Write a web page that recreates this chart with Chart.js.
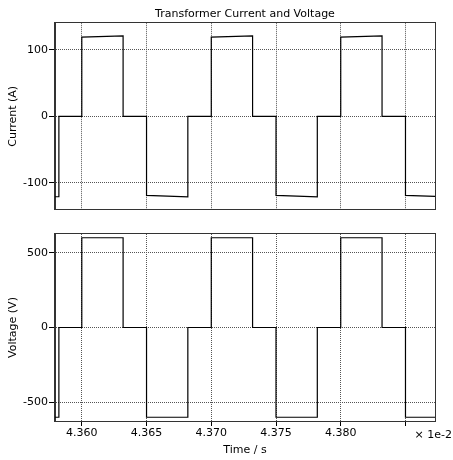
<!DOCTYPE html>
<html>
<head>
<meta charset="utf-8">
<script src="https://cdn.jsdelivr.net/npm/chart.js@4"></script>
<style>
  html, body { margin: 0; padding: 0; background: #fff; }
  #wrap { position: relative; width: 453px; height: 460px; }
  #top { position: absolute; left: 0; top: 0; }
  #bottom { position: absolute; left: 0; top: 222px; }
</style>
</head>
<body>
<div id="wrap">
  <div id="top" style="width:453px;height:217px"><canvas id="currentChart"></canvas></div>
  <div id="bottom" style="width:453px;height:238px"><canvas id="voltageChart"></canvas></div>
</div>
<script>
// time in units of 1e-2 s
const timeMin = 4.35793;
const timeMax = 4.38728;
const timeTicks = [4.360, 4.365, 4.370, 4.375, 4.380, 4.385];
const timeLabels = ["4.360", "4.365", "4.370", "4.375", "4.380", ""];
const currentTicks = [-100, 0, 100];
const voltageTicks = [-500, 0, 500];

const times = [
  4.35793, 4.35823, 4.35823, 4.3600, 4.3600, 4.36319, 4.36319, 4.3650, 4.3650,
  4.36819, 4.36819, 4.3700, 4.3700, 4.37319, 4.37319, 4.3750, 4.3750,
  4.37819, 4.37819, 4.3800, 4.3800, 4.38319, 4.38319, 4.3850, 4.3850, 4.38728,
];
const current = [
  -121, -121, 0, 0, 119, 121, 0, 0, -119,
  -121, 0, 0, 119, 121, 0, 0, -119,
  -121, 0, 0, 119, 121, 0, 0, -119, -120.5,
];
const voltage = [
  -600, -600, 0, 0, 600, 600, 0, 0, -600,
  -600, 0, 0, 600, 600, 0, 0, -600,
  -600, 0, 0, 600, 600, 0, 0, -600, -600,
];

const FONT = { family: "DejaVu Sans", size: 11 };
const GRID = "#555";
const AXIS = "#333";

const frame = {
  id: "frame",
  afterDatasetsDraw(chart) {
    const { ctx, chartArea: a } = chart;
    ctx.save();
    ctx.strokeStyle = AXIS;
    ctx.lineWidth = 1;
    ctx.strokeRect(Math.round(a.left) - 0.5, Math.round(a.top) - 0.5,
      Math.round(a.right - a.left) + 1, Math.round(a.bottom - a.top) + 1);
    ctx.restore();
  },
};

const exponent = {
  id: "exponent",
  afterDraw(chart) {
    const { ctx, chartArea: a } = chart;
    ctx.save();
    ctx.font = "11px 'DejaVu Sans'";
    ctx.fillStyle = "#000";
    ctx.textAlign = "right";
    ctx.textBaseline = "middle";
    ctx.fillText("\u00d7 1e-2", 452, a.bottom + 14);
    ctx.restore();
  },
};

function yAxis(title, min, max, ticks) {
  return {
    min, max,
    afterBuildTicks: (s) => { s.ticks = ticks.map((v) => ({ value: v })); },
    afterFit: (s) => { s.width = 55; },
    ticks: { color: "#000", font: FONT, padding: 1 },
    grid: { color: GRID, tickColor: "#000", tickLength: 6, tickBorderDash: [] },
    border: { color: AXIS, dash: [1, 1] },
    title: { display: true, text: title, color: "#000", font: FONT, padding: { top: 7, bottom: 0 } },
  };
}

function makeChart(id, values, yOpts, showX, padTop, padBottom, plugins, title) {
  return new Chart(document.getElementById(id), {
    type: "line",
    data: {
      datasets: [{
        data: times.map((t, i) => ({ x: t, y: values[i] })),
        borderColor: "#000",
        borderWidth: 1.2,
        pointRadius: 0,
        tension: 0,
      }],
    },
    options: {
      responsive: true,
      maintainAspectRatio: false,
      animation: false,
      layout: { autoPadding: false, padding: { left: 0, right: 18, top: padTop, bottom: padBottom } },
      plugins: {
        legend: { display: false },
        tooltip: { enabled: false },
        title: title ? {
          display: true, text: title, color: "#000", font: { ...FONT, weight: "normal" },
          fullSize: false, padding: { top: 8, bottom: 2 },
        } : { display: false },
      },
      scales: {
        x: {
          type: "linear",
          min: timeMin,
          max: timeMax,
          afterBuildTicks: (s) => { s.ticks = timeTicks.map((v) => ({ value: v })); },
          afterFit: (s) => { s.height = showX ? 39 : 0; },
          ticks: {
            display: showX, color: "#000", font: FONT, padding: 1, maxRotation: 0,
            callback: (v, i) => timeLabels[i],
          },
          grid: { color: GRID, tickColor: "#000", drawTicks: showX, tickLength: 5, tickBorderDash: [] },
          border: { color: AXIS, dash: [1, 1] },
          title: { display: showX, text: "Time / s", color: "#000", font: FONT, padding: { top: 0, bottom: 3 } },
        },
        y: yOpts,
      },
    },
    plugins,
  });
}

makeChart("currentChart", current, yAxis("Current (A)", -140, 140, currentTicks), false, 0, 3, [frame], "Transformer Current and Voltage");
makeChart("voltageChart", voltage, yAxis("Voltage (V)", -625, 625, voltageTicks), true, 12, 0, [frame, exponent]);
</script>
</body>
</html>
